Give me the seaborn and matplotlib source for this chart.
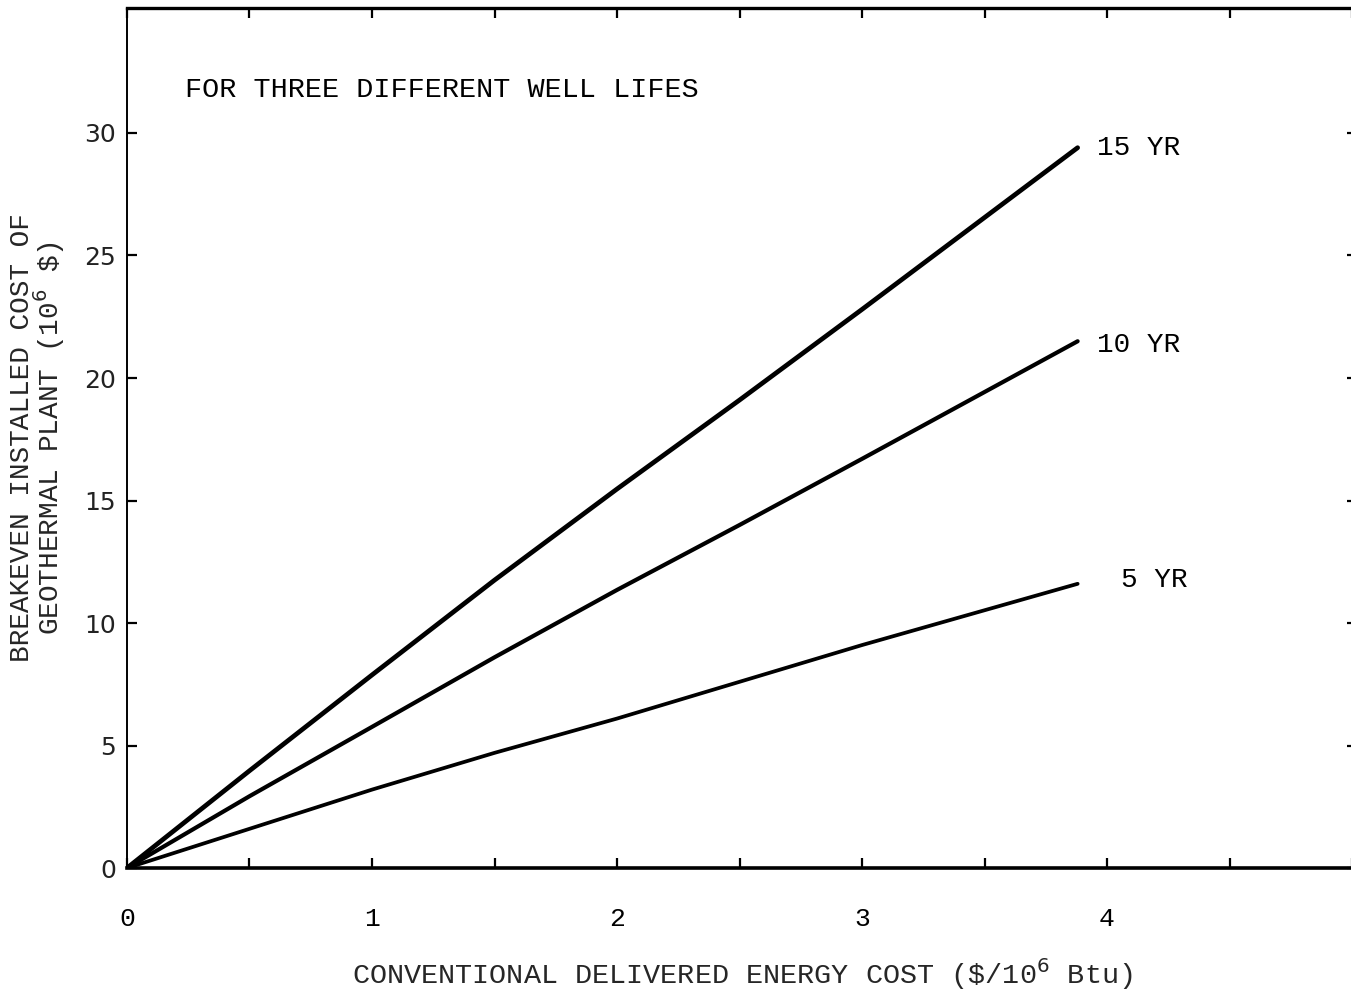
import matplotlib
matplotlib.use("Agg")
import matplotlib.pyplot as plt
from matplotlib.ticker import MultipleLocator, FixedLocator
import numpy as np
import pandas as pd
import seaborn as sns

# Conventional delivered energy cost ($/10^6 Btu)
energy_cost = [0.0, 0.5, 1.0, 1.5, 2.0, 2.5, 3.0, 3.88]
# Breakeven installed cost of geothermal plant (10^6 $) by well life
cost_15yr = [0.0, 3.97, 7.88, 11.75, 15.47, 19.1, 22.8, 29.4]
cost_10yr = [0.0, 2.93, 5.76, 8.6, 11.35, 14.0, 16.7, 21.5]
cost_5yr = [0.0, 1.6, 3.2, 4.7, 6.1, 7.6, 9.1, 11.6]
well_lives = ["15 YR", "10 YR", "5 YR"]

x_tick_values = [0, 1, 2, 3, 4]
y_tick_values = [0, 5, 10, 15, 20, 25, 30]

sns.set_style("ticks")
plt.rcParams["font.family"] = ["Liberation Mono", "DejaVu Sans"]
plt.rcParams["mathtext.fontset"] = "dejavusans"

df = pd.DataFrame({
    "energy": energy_cost * 3,
    "cost": cost_15yr + cost_10yr + cost_5yr,
    "life": [w for w in well_lives for _ in energy_cost],
})

fig = plt.figure(figsize=(13.51, 10.05), dpi=100)
ax = fig.add_axes([0.094, 0.1363, 0.9104, 0.8557])

line_widths = {"15 YR": 3.4, "10 YR": 3.0, "5 YR": 2.7}
sns.lineplot(data=df, x="energy", y="cost", hue="life",
             palette={w: "black" for w in well_lives},
             size="life", sizes=line_widths, legend=False,
             ax=ax, solid_capstyle="round", solid_joinstyle="round")

# Curve labels at the right-hand end of each line
label_offsets = {"15 YR": (14, 0), "10 YR": (14, -3), "5 YR": (31, 3)}
ends = {"15 YR": cost_15yr[-1], "10 YR": cost_10yr[-1], "5 YR": cost_5yr[-1]}
for w in well_lives:
    ax.annotate(w, xy=(energy_cost[-1], ends[w]), xytext=label_offsets[w],
                textcoords="offset points", ha="left", va="center",
                fontsize=20, color="black")

ax.text(0.237, 31.75, "FOR THREE DIFFERENT WELL LIFES", ha="left", va="center",
        fontsize=20.5, color="black")

ax.set_xlim(0, 5.02)
ax.set_ylim(0, 35.1)

ax.xaxis.set_major_locator(FixedLocator(x_tick_values))
ax.xaxis.set_minor_locator(MultipleLocator(0.5))
ax.yaxis.set_major_locator(FixedLocator(y_tick_values))
ax.set_xticklabels([str(v) for v in x_tick_values], fontsize=19,
                   family=["Liberation Mono", "DejaVu Sans"])
ax.set_yticklabels([str(v) for v in y_tick_values], fontsize=18,
                   family=["DejaVu Sans"])

ax.tick_params(axis="x", which="both", direction="in", top=True, bottom=True,
               length=7, width=1.6, pad=28, colors="black")
ax.tick_params(axis="y", which="major", direction="in", left=True, right=True,
               length=7, width=1.6, pad=8, colors="black")
ax.tick_params(axis="y", which="major", labelcolor="#222222")

for side, lw in (("top", 2.4), ("bottom", 2.6), ("left", 1.4)):
    ax.spines[side].set_linewidth(lw)
    ax.spines[side].set_color("black")
ax.spines["right"].set_visible(False)

ax.set_xlabel(r"CONVENTIONAL DELIVERED ENERGY COST (\$/10$^{6}$ Btu)",
              fontsize=20.5, labelpad=18)
ax.set_ylabel("BREAKEVEN INSTALLED COST OF\n" + r"GEOTHERMAL PLANT (10$^{6}$ \$)",
              fontsize=20, labelpad=12, linespacing=0.86)

fig.savefig("out.png", dpi=100, facecolor="white")
